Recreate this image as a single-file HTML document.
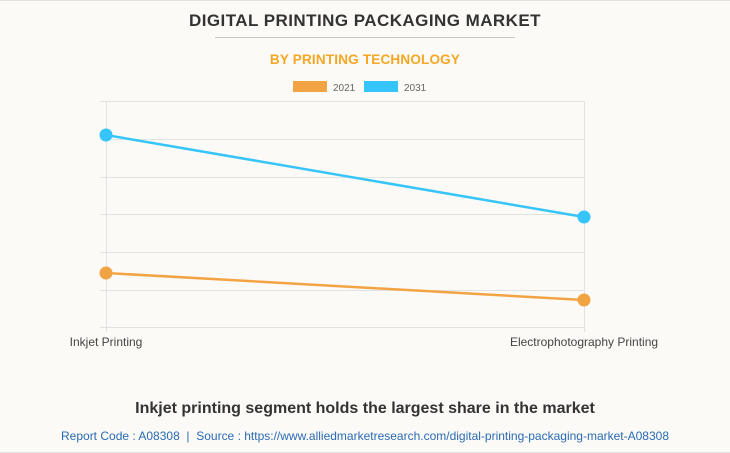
<!DOCTYPE html>
<html><head><meta charset="utf-8"><style>
body{margin:0;width:730px;height:453px;background:#fbfaf6;overflow:hidden;font-family:"Liberation Sans",sans-serif;}
</style></head><body>
<svg width="730" height="453" xmlns="http://www.w3.org/2000/svg" style="position:absolute;left:0;top:0">
<rect x="0" y="0" width="730" height="453" fill="#fbfaf6"/>
<line x1="0" y1="0.5" x2="730" y2="0.5" stroke="#e2e2e2"/>
<line x1="0" y1="452.5" x2="730" y2="452.5" stroke="#e2e2e2"/>
<text x="365" y="26" text-anchor="middle" font-size="17" font-weight="bold" fill="#333" letter-spacing="0.45">DIGITAL PRINTING PACKAGING MARKET</text>
<line x1="215" y1="37.5" x2="515" y2="37.5" stroke="#c8c8c8"/>
<text x="365" y="64" text-anchor="middle" font-size="13.5" font-weight="bold" fill="#f5a623" letter-spacing="0.2">BY PRINTING TECHNOLOGY</text>
<rect x="293" y="81" width="34" height="11" fill="#f2a444"/>
<text x="333" y="91" font-size="10" fill="#666">2021</text>
<rect x="364" y="81" width="34" height="11" fill="#36c5fb"/>
<text x="404" y="91" font-size="10" fill="#666">2031</text>
<g stroke="#e2e2e2" stroke-width="1">
<line x1="100" y1="101.5" x2="584" y2="101.5"/>
<line x1="100" y1="139.5" x2="584" y2="139.5"/>
<line x1="100" y1="177.5" x2="584" y2="177.5"/>
<line x1="100" y1="214.5" x2="584" y2="214.5"/>
<line x1="100" y1="252.5" x2="584" y2="252.5"/>
<line x1="100" y1="290.5" x2="584" y2="290.5"/>
<line x1="100" y1="327.5" x2="584" y2="327.5"/>
<line x1="106.5" y1="101" x2="106.5" y2="332"/>
<line x1="584.5" y1="101" x2="584.5" y2="332"/>
</g>
<polyline points="106,135 584,217" fill="none" stroke="#36c5fb" stroke-width="2.5"/>
<polyline points="106,273 584,300" fill="none" stroke="#f2a444" stroke-width="2.5"/>
<circle cx="106" cy="135" r="6.5" fill="#36c5fb"/>
<circle cx="584" cy="217" r="6.5" fill="#36c5fb"/>
<circle cx="106" cy="273" r="6.5" fill="#f2a444"/>
<circle cx="584" cy="300" r="6.5" fill="#f2a444"/>
<text x="106" y="346" text-anchor="middle" font-size="12" fill="#444">Inkjet Printing</text>
<text x="584" y="346" text-anchor="middle" font-size="12" fill="#444">Electrophotography Printing</text>
<text x="365" y="413" text-anchor="middle" font-size="16" font-weight="bold" fill="#333">Inkjet printing segment holds the largest share in the market</text>
<text x="365" y="440" text-anchor="middle" font-size="12" fill="#2a6ab5" xml:space="preserve" textLength="608" lengthAdjust="spacing">Report Code : A08308  |  Source : https://www.alliedmarketresearch.com/digital-printing-packaging-market-A08308</text>
</svg>
</body></html>
